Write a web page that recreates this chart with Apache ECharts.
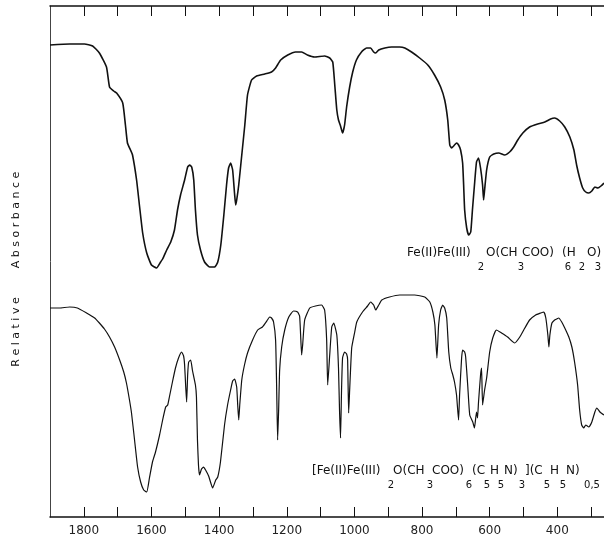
<!DOCTYPE html>
<html>
<head>
<meta charset="utf-8">
<script src="https://cdn.jsdelivr.net/npm/echarts@6/dist/echarts.min.js"></script>
<style>
html,body{margin:0;padding:0;background:#fff;}
#chart{width:604px;height:539px;}
</style>
</head>
<body>
<div id="chart"></div>
<script>
// Wavenumber (cm-1) and relative absorbance-axis height (arbitrary units, 0 = bottom frame)
var topWavenumbers = [1900,1842,1798,1774,1754,1733,1724,1712,1703,1685,1677,1671,1662,1656,1644,1635,1626,1614,1600,1585,1573,1567,1555,1543,1532,1523,1514,1502,1493,1487,1481,1475,1470,1464,1455,1443,1428,1413,1404,1395,1386,1378,1372,1366,1360,1354,1351,1348,1342,1333,1324,1316,1304,1289,1265,1245,1233,1218,1197,1174,1156,1139,1118,1088,1073,1064,1058,1052,1047,1041,1035,1029,1023,1014,1005,994,979,964,952,943,937,928,910,890,866,851,831,807,783,763,745,733,724,718,713,704,698,692,686,680,677,674,668,662,656,651,645,639,633,627,621,618,615,609,600,588,573,556,541,529,517,502,482,458,437,420,408,393,378,363,351,343,334,325,316,307,298,289,280,271,262];
var topValues = [472,473,473,471,464,450,430,426,424,414,392,374,367,362,337,310,284,264,252,249,255,258,267,275,287,307,322,337,350,352,350,337,307,282,267,255,250,250,255,272,302,332,349,354,347,322,312,317,332,362,392,422,437,441,443,445,449,457,462,465,465,462,460,461,459,455,432,407,397,391,384,392,410,430,445,457,465,469,469,465,464,467,469,470,470,469,465,459,452,442,430,417,397,372,369,372,374,372,367,354,332,307,289,282,285,307,332,355,359,349,332,317,327,347,360,363,364,362,365,370,377,384,390,393,395,398,399,396,390,380,367,352,339,329,325,324,326,330,329,331,334];

var bottomWavenumbers = [1900,1872,1842,1819,1792,1768,1754,1739,1724,1709,1694,1682,1674,1665,1659,1650,1641,1632,1623,1614,1606,1597,1588,1576,1567,1558,1552,1547,1538,1529,1520,1511,1505,1502,1499,1496,1493,1490,1484,1479,1470,1467,1464,1461,1458,1452,1446,1440,1431,1419,1410,1404,1396,1384,1375,1366,1360,1354,1348,1345,1342,1339,1333,1325,1316,1301,1286,1272,1257,1251,1245,1239,1233,1230,1227,1224,1221,1215,1206,1194,1180,1168,1162,1159,1156,1153,1147,1132,1115,1097,1088,1082,1079,1073,1067,1061,1052,1047,1044,1041,1038,1035,1029,1023,1020,1017,1014,1008,999,993,976,961,952,943,937,928,919,896,866,822,792,777,768,762,756,751,745,739,733,727,721,715,709,704,698,692,689,683,680,674,671,665,659,650,645,639,636,633,627,624,621,615,609,600,591,580,565,547,526,511,496,482,464,449,440,434,428,425,422,416,408,402,396,387,378,366,357,349,340,334,328,322,316,307,298,289,283,274,262];
var bottomValues = [209,209,210,209,204,199,194,188,180,170,157,145,134,117,104,77,50,35,27,25,39,55,65,82,97,110,112,120,135,149,159,165,161,152,132,115,142,155,157,147,132,120,77,52,42,48,50,47,41,29,37,40,55,92,112,127,136,138,130,112,97,112,137,152,164,177,187,190,197,200,199,195,177,132,77,107,147,170,187,200,206,205,201,182,162,172,197,209,211,212,207,177,132,162,190,194,182,149,107,79,127,159,165,163,157,104,127,169,185,195,205,211,215,212,207,212,217,220,222,222,220,215,205,192,159,192,207,212,209,199,165,149,142,135,122,97,122,159,167,165,160,132,102,95,89,105,99,115,142,149,112,127,139,165,179,187,184,180,174,180,189,197,202,204,205,199,182,170,182,194,197,198,199,195,189,180,170,155,132,107,92,89,92,90,95,105,109,105,102];

var tickValues = [1800,1700,1600,1500,1400,1300,1200,1100,1000,900,800,700,600,500,400,300];
var tickLabels = [1800,1600,1400,1200,1000,800,600,400];

var yTitleWords = ['Absorbance', 'Relative'];
var topFormula = [['Fe(II)Fe(III)', 0], ['2', 1], ['O(CH', 0], ['3', 1], ['COO)', 0], ['6', 1], ['(H', 0], ['2', 1], ['O)', 0], ['3', 1]];
var bottomFormula = [['[Fe(II)Fe(III)', 0], ['2', 1], ['O(CH', 0], ['3', 1], ['COO)', 0], ['6', 1], ['(C', 0], ['5', 1], ['H', 0], ['5', 1], ['N)', 0], ['3', 1], ['](C', 0], ['5', 1], ['H', 0], ['5', 1], ['N)', 0], ['0,5', 1]];

function pairs(xs, ys) { return xs.map(function (x, i) { return [x, ys[i]]; }); }

var topFormulaX = [407, 481, 486, 521, 522, 568, 562, 582, 587, 598];
var bottomFormulaX = [312, 391, 393, 430, 432, 469, 472, 487, 490, 501, 504, 522, 525, 547, 550, 563, 566, 592];

function formulaGraphics(items, xs, yMain, ySub) {
  return items.map(function (it, i) {
    var sub = it[1] === 1;
    return {
      type: 'text', silent: true,
      style: {
        text: it[0], x: xs[i], y: sub ? ySub : yMain,
        align: sub ? 'center' : 'left', verticalAlign: 'middle',
        font: (sub ? '10px' : '12px') + ' "DejaVu Sans", sans-serif',
        fill: '#111'
      }
    };
  });
}

var spaced = function (w) { return w.split('').join(' '); };

var chart = echarts.init(document.getElementById('chart'), null, {renderer: 'canvas'});
var axisCommon = {
  type: 'value', inverse: true, min: 262, max: 1900,
  splitLine: {show: false},
  axisLine: {show: true, onZero: false, lineStyle: {color: '#111', width: 1.5}},
  axisTick: {show: true, inside: true, length: 10, customValues: tickValues, lineStyle: {color: '#111', width: 1}}
};
chart.setOption({
  animation: false,
  backgroundColor: '#fff',
  grid: {left: 50, right: 0, top: 6, bottom: 22, containLabel: false},
  xAxis: [
    Object.assign({}, axisCommon, {
      position: 'bottom',
      axisLabel: {show: true, customValues: tickLabels, margin: 8, fontSize: 12, color: '#222',
        fontFamily: '"DejaVu Sans", sans-serif', formatter: function (v) { return String(v); }}
    }),
    Object.assign({}, axisCommon, {position: 'top', axisLabel: {show: false}})
  ],
  yAxis: {
    type: 'value', min: 0, max: 511,
    axisLine: {show: true, lineStyle: {color: '#444', width: 1}},
    axisTick: {show: false}, axisLabel: {show: false}, splitLine: {show: false}
  },
  series: [
    {type: 'line', data: pairs(topWavenumbers, topValues), showSymbol: false, smooth: 0.15,
     lineStyle: {color: '#111', width: 1.6}, xAxisIndex: 0},
    {type: 'line', data: pairs(bottomWavenumbers, bottomValues), showSymbol: false, smooth: 0.15,
     lineStyle: {color: '#111', width: 1.2}, xAxisIndex: 0}
  ],
  graphic: [
    {type: 'text', silent: true, x: 16, y: 220, rotation: Math.PI / 2,
     style: {text: spaced(yTitleWords[0]), align: 'center', verticalAlign: 'middle', font: '11px "DejaVu Sans", sans-serif', fill: '#111'}},
    {type: 'text', silent: true, x: 16, y: 332, rotation: Math.PI / 2,
     style: {text: spaced(yTitleWords[1]), align: 'center', verticalAlign: 'middle', font: '11px "DejaVu Sans", sans-serif', fill: '#111'}}
  ].concat(formulaGraphics(topFormula, topFormulaX, 253, 267))
   .concat(formulaGraphics(bottomFormula, bottomFormulaX, 471, 485))
});
</script>
</body>
</html>
